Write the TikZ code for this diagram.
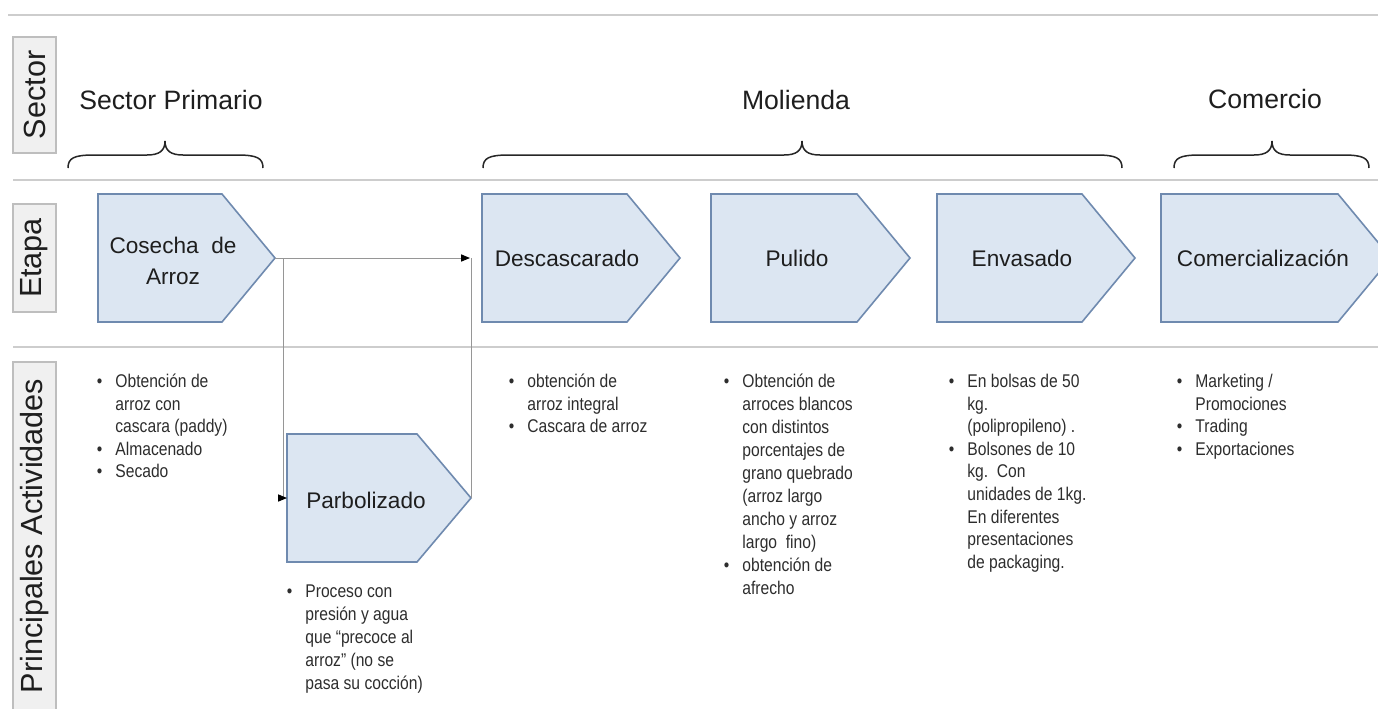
\documentclass[tikz,border=0pt]{standalone}
\usepackage{fontspec}
\setmainfont{Liberation Sans}
\newfontfamily\narrowfont[FakeStretch=0.85]{Liberation Sans}
\usetikzlibrary{arrows.meta}
\definecolor{chevfill}{RGB}{220,230,242}
\definecolor{chevdraw}{RGB}{111,138,175}
\definecolor{sepgray}{RGB}{205,205,205}
\definecolor{labfill}{RGB}{240,240,240}
\definecolor{labdraw}{RGB}{190,190,190}
\definecolor{txt}{RGB}{30,30,30}
\definecolor{bultxt}{RGB}{45,45,45}
\definecolor{conngray}{RGB}{150,150,150}
\newcommand\mybul{\llap{\textbullet\hspace{6.5pt}}}
\newcommand\mybrace[3]{%
  \draw[bracestyle] (#1,168) .. controls (#1,158) and (#1+6,155) .. (#1+26,155)
    -- (#3-18,155) .. controls (#3-6,155) and (#3,151) .. (#3,141)
    .. controls (#3,151) and (#3+6,155) .. (#3+18,155)
    -- (#2-26,155) .. controls (#2-6,155) and (#2,158) .. (#2,168);}
\begin{document}
\begin{tikzpicture}[x=0.5pt,y=-0.5pt,
  sep/.style={draw=sepgray,line width=1pt},
  sidebox/.style={draw=labdraw,fill=labfill,line width=0.6pt},
  sidetext/.style={rotate=90,font=\fontsize{15.3}{18}\selectfont,text=txt,inner sep=0},
  heading/.style={font=\fontsize{13.3}{16}\selectfont,text=txt,inner sep=0},
  chev/.style={draw=chevdraw,fill=chevfill,line width=0.8pt,line join=miter},
  chevtext/.style={font=\fontsize{11.3}{15.5}\selectfont,text=txt,align=center,inner sep=0},
  bullets/.style={font=\narrowfont\fontsize{9.2}{11.3}\selectfont,text=bultxt,inner sep=0,anchor=base west},
  bracestyle/.style={draw=black!85,line width=0.75pt},
  conn/.style={draw=conngray,line width=0.5pt},
  connarrow/.style={-{Triangle[length=4.5pt,width=3.6pt,color=black]}}
]
\useasboundingbox (0,0) rectangle (1378,708);
\clip (0,0) rectangle (1378,708);

% separators
\draw[sep] (8,15) -- (1378,15);
\draw[sep] (13,180) -- (1378,180);
\draw[sep] (13,347) -- (1378,347);

% side labels
\draw[sidebox] (13,37) rectangle (56,153);
\node[sidetext] (lsec) at (34.5,95) {Sector};
\draw[sidebox] (13,204) rectangle (56,312);
\node[sidetext] (leta) at (34.5,258) {Etapa};
\draw[sidebox] (13,362) rectangle (56,720);
\node[sidetext] (lact) at (34.5,536) {Principales Actividades};

% headings and braces
\node[heading] (hprim) at (171,100) {Sector Primario};
\node[heading] (hmol) at (796,100) {Molienda};
\node[heading] (hcom) at (1265,99) {Comercio};
\mybrace{68}{263}{165}
\mybrace{483}{1122}{802}
\mybrace{1174}{1369}{1272}

% chevrons
\draw[chev] (98,194) -- (222,194) -- (275,258) coordinate (cosTip) -- (222,322) -- (98,322) -- cycle;
\node[chevtext] (cos) at (173,261) {Cosecha\ \ de\\Arroz};

\draw[chev] (482,194) -- (627,194) -- (680,258) -- (627,322) -- (482,322) -- cycle;
\coordinate (descW) at (482,258);
\node[chevtext] (desc) at (567,258) {Descascarado};

\draw[chev] (711,194) -- (857,194) -- (910,258) -- (857,322) -- (711,322) -- cycle;
\node[chevtext] (pul) at (797,258) {Pulido};

\draw[chev] (937,194) -- (1082,194) -- (1135,258) -- (1082,322) -- (937,322) -- cycle;
\node[chevtext] (env) at (1022,258) {Envasado};

\draw[chev] (1161,194) -- (1338,194) -- (1391,258) -- (1338,322) -- (1161,322) -- cycle;
\node[chevtext] (comz) at (1263,258) {Comercialización};

\draw[chev] (287,434) -- (417,434) -- (471,498) coordinate (parbTip) -- (417,562) -- (287,562) -- cycle;
\coordinate (parbW) at (287,498);
\node[chevtext] (parb) at (366,500) {Parbolizado};

% connectors
\coordinate (split) at (283,258);
\draw[conn,connarrow,shorten >=6pt] (cosTip) -- (descW);
\draw[conn,connarrow] (split) |- (parbW);
\draw[conn] (parbTip) -- (parbTip |- descW);

% activities
\node[bullets] (acos) at (115,387.5) {\begin{tabular}[t]{@{}l@{}}\mybul Obtención de\\arroz con\\cascara (paddy)\\\mybul Almacenado\\\mybul Secado\end{tabular}};

\node[bullets,font=\narrowfont\fontsize{9.2}{11.5}\selectfont] (aparb) at (305,597) {\begin{tabular}[t]{@{}l@{}}\mybul Proceso con\\presión y agua\\que “precoce al\\arroz” (no se\\pasa su cocción)\end{tabular}};

\node[bullets] (adesc) at (527,387.5) {\begin{tabular}[t]{@{}l@{}}\mybul obtención de\\arroz integral\\\mybul Cascara de arroz\end{tabular}};

\node[bullets,font=\narrowfont\fontsize{9.2}{11.5}\selectfont] (apul) at (742,387.5) {\begin{tabular}[t]{@{}l@{}}\mybul Obtención de\\arroces blancos\\con distintos\\porcentajes de\\grano quebrado\\(arroz largo\\ancho y arroz\\largo\ \ fino)\\\mybul obtención de\\afrecho\end{tabular}};

\node[bullets] (aenv) at (967,387.5) {\begin{tabular}[t]{@{}l@{}}\mybul En bolsas de 50\\kg.\\(polipropileno) .\\\mybul Bolsones de 10\\kg.\ \ Con\\unidades de 1kg.\\En diferentes\\presentaciones\\de packaging.\end{tabular}};

\node[bullets] (acom) at (1195,387.5) {\begin{tabular}[t]{@{}l@{}}\mybul Marketing /\\Promociones\\\mybul Trading\\\mybul Exportaciones\end{tabular}};
\end{tikzpicture}
\end{document}
